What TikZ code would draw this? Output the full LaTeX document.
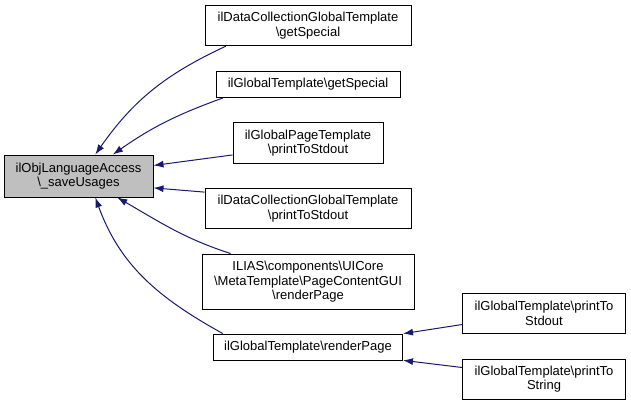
\documentclass[tikz,border=0pt]{standalone}
\usepackage{fontspec}
\setmainfont{Liberation Sans}
\usetikzlibrary{arrows.meta,positioning}
\definecolor{edgeblue}{HTML}{191970}
\definecolor{nodegray}{HTML}{BFBFBF}

\begin{document}
\begin{tikzpicture}[on grid,>={Latex[length=10pt,width=7pt]},
  fn/.style={draw,inner sep=0pt,align=center,line width=1pt,font=\fontsize{13}{14.7}\selectfont},
  call/.style={->,edgeblue,line width=1pt}]
 \useasboundingbox (0,0) rectangle (631pt,-405pt);
 \node[fn,fill=nodegray,minimum width=149pt,minimum height=42pt] (saveUsages) at (78.5pt,-176pt) {ilObjLanguageAccess\\\textbackslash\_saveUsages};
 \node[fn,minimum width=206pt,minimum height=40pt] (dcSpecial) [above right=150.3pt and 229.5pt of saveUsages] {ilDataCollectionGlobalTemplate\\\textbackslash getSpecial};
 \node[fn,minimum width=184pt,minimum height=26pt] (gtSpecial) [below=58.8pt of dcSpecial] {ilGlobalTemplate\textbackslash getSpecial};
 \node[fn,minimum width=150pt,minimum height=40.6pt] (gpStdout) [below=58.5pt of gtSpecial] {ilGlobalPageTemplate\\\textbackslash printToStdout};
 \node[fn,minimum width=206pt,minimum height=40.4pt] (dcStdout) [below=65.5pt of gpStdout] {ilDataCollectionGlobalTemplate\\\textbackslash printToStdout};
 \node[fn,minimum width=212pt,minimum height=55.3pt] (pcRender) [below=73.2pt of dcStdout] {ILIAS\textbackslash components\textbackslash UICore\\\textbackslash MetaTemplate\textbackslash PageContentGUI\\\textbackslash renderPage};
 \node[fn,minimum width=189pt,minimum height=26pt] (gtRender) [below=65.3pt of pcRender] {ilGlobalTemplate\textbackslash renderPage};
 \node[fn,minimum width=163pt,minimum height=40pt] (gtStdout) [above right=34pt and 236pt of gtRender] {ilGlobalTemplate\textbackslash printTo\\Stdout};
 \node[fn,minimum width=163pt,minimum height=40pt] (gtString) [below right=32pt and 236pt of gtRender] {ilGlobalTemplate\textbackslash printTo\\String};
 \path[call]
  (dcSpecial.194) edge [out=205,in=55] (saveUsages.52)
  (gtSpecial.189) edge [out=200,in=35] (saveUsages.32)
  (gpStdout.189) edge (saveUsages.8)
  (dcStdout.171) edge (saveUsages.351)
  (pcRender.160) edge [out=162,in=330] (saveUsages.331)
  (gtRender.171) edge [out=151,in=290] (saveUsages.308)
  (gtStdout.188) edge (gtRender.8)
  (gtString.172) edge (gtRender.352);
\end{tikzpicture}
\end{document}
